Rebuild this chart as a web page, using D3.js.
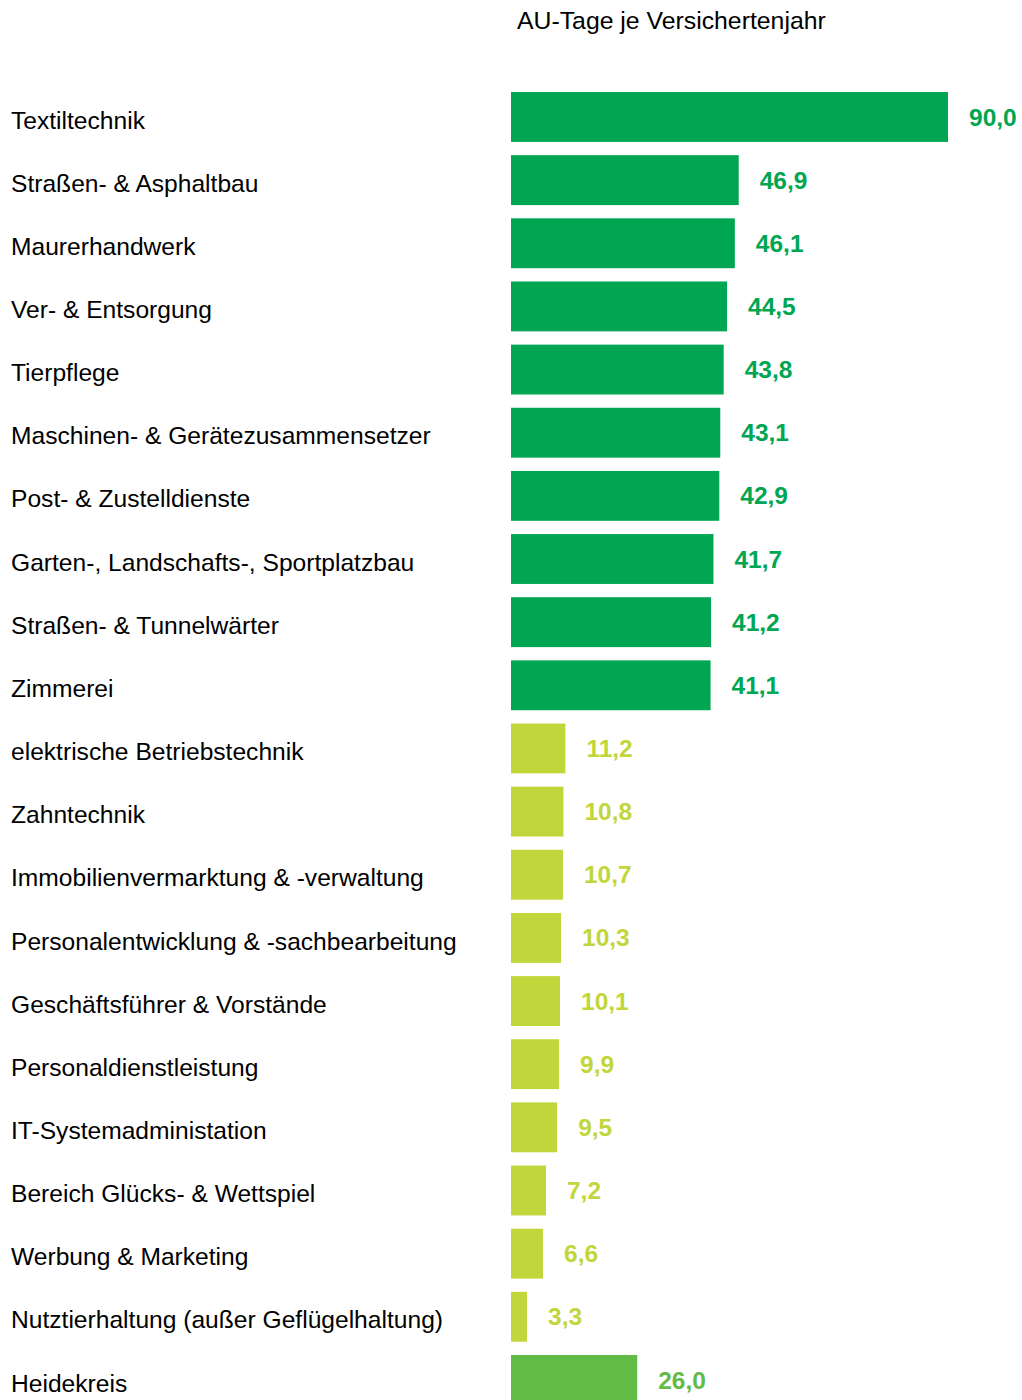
<!DOCTYPE html>
<html>
<head>
<meta charset="utf-8">
<script src="https://cdn.jsdelivr.net/npm/d3@7"></script>
<style>
  body { margin: 0; background: #fff; }
  svg { display: block; }
</style>
</head>
<body>
<div id="container"></div>
<script>
// Data
const categories = [
  "Textiltechnik", "Straßen- & Asphaltbau", "Maurerhandwerk", "Ver- & Entsorgung",
  "Tierpflege", "Maschinen- & Gerätezusammensetzer", "Post- & Zustelldienste",
  "Garten-, Landschafts-, Sportplatzbau", "Straßen- & Tunnelwärter", "Zimmerei",
  "elektrische Betriebstechnik", "Zahntechnik", "Immobilienvermarktung & -verwaltung",
  "Personalentwicklung & -sachbearbeitung", "Geschäftsführer & Vorstände",
  "Personaldienstleistung", "IT-Systemadministation", "Bereich Glücks- & Wettspiel",
  "Werbung & Marketing", "Nutztierhaltung (außer Geflügelhaltung)", "Heidekreis"
];
const values = [90.0, 46.9, 46.1, 44.5, 43.8, 43.1, 42.9, 41.7, 41.2, 41.1,
                11.2, 10.8, 10.7, 10.3, 10.1, 9.9, 9.5, 7.2, 6.6, 3.3, 26.0];
const groups = ["top", "top", "top", "top", "top", "top", "top", "top", "top", "top",
                "low", "low", "low", "low", "low", "low", "low", "low", "low", "low", "region"];
const title = "AU-Tage je Versichertenjahr";

const width = 1022, height = 1400;
const color = d3.scaleOrdinal()
    .domain(["top", "low", "region"])
    .range(["#00a651", "#c1d63a", "#62bb46"]);
const format = d3.format(".1f");

const rows = categories.map((c, i) => ({name: c, value: values[i], group: groups[i]}));

const x = d3.scaleLinear()
    .domain([0, 90])
    .range([511, 948]);

const y = d3.scaleBand()
    .domain(categories)
    .range([85.4, 1411.5])
    .paddingInner(0.21)
    .paddingOuter(0.105);

const svg = d3.select("#container")
    .append("svg")
    .attr("width", width)
    .attr("height", height)
    .style("font-family", "'Liberation Sans', Arial, sans-serif");

svg.append("text")
    .attr("x", 517)
    .attr("y", 29)
    .attr("font-size", 24.8)
    .attr("fill", "#000")
    .text(title);

svg.append("g")
    .selectAll("rect")
    .data(rows)
    .join("rect")
    .attr("x", x(0))
    .attr("y", d => y(d.name))
    .attr("width", d => x(d.value) - x(0))
    .attr("height", y.bandwidth())
    .attr("fill", d => color(d.group));

svg.append("g")
    .selectAll("text")
    .data(rows)
    .join("text")
    .attr("x", 11)
    .attr("y", d => y(d.name) + y.bandwidth() / 2 + 3)
    .attr("dy", "0.35em")
    .attr("font-size", 24.6)
    .attr("fill", "#000")
    .text(d => d.name);

svg.append("g")
    .selectAll("text")
    .data(rows)
    .join("text")
    .attr("x", d => x(d.value) + 21)
    .attr("y", d => y(d.name) + y.bandwidth() / 2)
    .attr("dy", "0.35em")
    .attr("font-size", 24.5)
    .attr("font-weight", "bold")
    .attr("fill", d => color(d.group))
    .text(d => format(d.value).replace(".", ","));
</script>
</body>
</html>
